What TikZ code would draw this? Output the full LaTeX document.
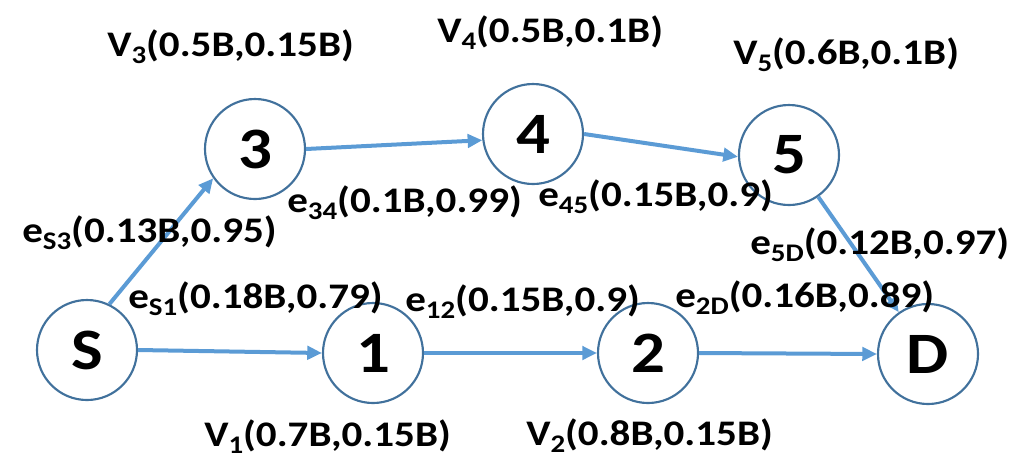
\documentclass[tikz,border=0pt]{standalone}
\usepackage{fontspec}
\setmainfont{Carlito}[FakeStretch=1.14]
\usetikzlibrary{arrows.meta}
\definecolor{edgeblue}{RGB}{91,155,213}
\definecolor{ringblue}{RGB}{65,113,156}
\newcommand\sbs[1]{\raisebox{-0.2em}{\fontsize{19}{19}\selectfont #1}}
\tikzset{
  vertex/.style={circle, draw=ringblue, line width=1.6pt, minimum size=75pt, inner sep=0pt, font=\fontsize{44}{44}\selectfont\bfseries},
  lbl/.style={font=\fontsize{27}{30}\selectfont\bfseries, inner sep=0pt, anchor=west},
  link/.style={draw=edgeblue, line width=3pt, -{Triangle[length=11pt,width=10pt]}}
}
\begin{document}
\begin{tikzpicture}[x=0.75pt,y=-0.75pt]
\useasboundingbox (0,0) rectangle (1024,469);
\node[vertex] (S) at (87,350) {S};
\node[vertex] (n1) at (373,353) {1};
\node[vertex] (n2) at (648,353) {2};
\node[vertex] (D) at (928,354) {D};
\node[vertex] (n3) at (255,149) {3};
\node[vertex] (n4) at (533,134) {4};
\node[vertex] (n5) at (789,155) {5};

\draw[link] (S.64) -- (n3.215);
\draw[link] (S.east) -- (n1.west);
\draw[link] (n1.east) -- (n2.west);
\draw[link] (n2.east) -- (D.west);
\draw[link] (n3.east) -- (n4.187);
\draw[link] (n4.east) -- (n5.182);
\draw[link] (n5) -- (D);

\node[lbl] (v3) at (107,47) {V\sbs{3}(0.5B,0.15B)};
\node[lbl] (v4) at (437,33) {V\sbs{4}(0.5B,0.1B)};
\node[lbl] (v5) at (733,55) {V\sbs{5}(0.6B,0.1B)};
\node[lbl] (v1) at (204,437) {V\sbs{1}(0.7B,0.15B)};
\node[lbl] (v2) at (526,436) {V\sbs{2}(0.8B,0.15B)};
\node[lbl] (e34) at (287,203) {e\sbs{34}(0.1B,0.99)};
\node[lbl] (e45) at (538,197) {e\sbs{45}(0.15B,0.9)};
\node[lbl] (eS3) at (22,233) {e\sbs{S3}(0.13B,0.95)};
\node[lbl] (e5D) at (750,245) {e\sbs{5D}(0.12B,0.97)};
\node[lbl] (eS1) at (128,299) {e\sbs{S1}(0.18B,0.79)};
\node[lbl] (e12) at (405,302) {e\sbs{12}(0.15B,0.9)};
\node[lbl] (e2D) at (675,298) {e\sbs{2D}(0.16B,0.89)};
\end{tikzpicture}
\end{document}
